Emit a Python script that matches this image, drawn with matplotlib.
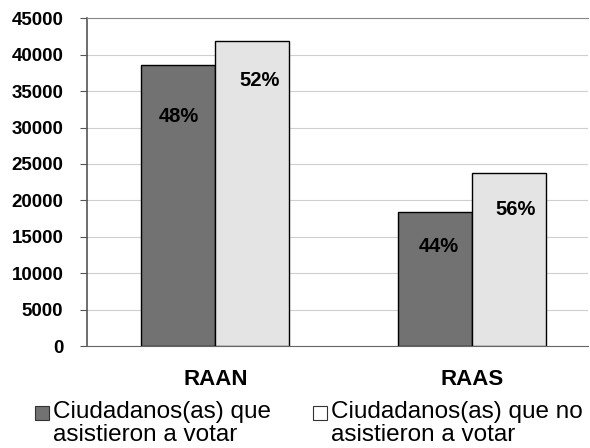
import numpy as np
import matplotlib.pyplot as plt
from matplotlib.patches import Rectangle

plt.rcParams['font.family'] = ['Liberation Sans', 'DejaVu Sans']

# data
regions = ["RAAN", "RAAS"]
asistieron = [38560, 18470]
no_asistieron = [41850, 23810]
pct_asist = ["48%", "44%"]
pct_no = ["52%", "56%"]
series_names = ["Ciudadanos(as) que\nasistieron a votar",
                "Ciudadanos(as) que no\nasistieron a votar"]
series_colors = ["#727272", "#e4e4e4"]

fig = plt.figure(figsize=(5.9, 4.48), dpi=100)
ax = fig.add_axes([0.1475, 0.2266, 0.849, 0.7332])

x = np.arange(len(regions))
w = 0.288
b1 = ax.bar(x - w/2, asistieron, w, color=series_colors[0], edgecolor="black", linewidth=1, zorder=3)
b2 = ax.bar(x + w/2, no_asistieron, w, color=series_colors[1], edgecolor="black", linewidth=1, zorder=3)

# label placement (pixel offsets from bar top)
off_a = [(0, -51), (3, -35)]
off_n = [(7, -39), (6, -37)]
for rect, lab, (dx, dy) in zip(b1, pct_asist, off_a):
    ax.annotate(lab, (rect.get_x() + rect.get_width()/2, rect.get_height()),
                xytext=(dx * 0.72, dy * 0.72), textcoords="offset points",
                ha="center", va="center", fontsize=14.5, fontweight="bold", zorder=4)
for rect, lab, (dx, dy) in zip(b2, pct_no, off_n):
    ax.annotate(lab, (rect.get_x() + rect.get_width()/2, rect.get_height()),
                xytext=(dx * 0.72, dy * 0.72), textcoords="offset points",
                ha="center", va="center", fontsize=14.5, fontweight="bold", zorder=4)

ax.set_ylim(0, 45000)
ax.set_yticks(np.arange(0, 45001, 5000))
ax.set_xlim(-0.5, 1.45)
ax.set_xticks(x)
ax.set_xticklabels(regions, fontsize=16, fontweight="bold")
ax.tick_params(axis="x", length=0, pad=16)
ax.tick_params(axis="y", labelsize=13.5, length=5, direction="out", pad=12,
               color="#555555")
for t in ax.get_yticklabels():
    t.set_fontweight("bold")

ax.grid(axis="y", color="#cfcfcf", linewidth=0.8, zorder=0)
ax.spines["right"].set_visible(False)
ax.spines["top"].set_color("#888888")
ax.spines["top"].set_linestyle((0, (2, 1)))
ax.spines["left"].set_color("#555555")
ax.spines["left"].set_linewidth(1.2)
ax.spines["bottom"].set_color("#666666")

# legend drawn below the plot
W, H = 590, 448
leg_x = [35, 313]
leg_fill = [series_colors[0], "white"]
for lx, name, fc in zip(leg_x, series_names, leg_fill):
    fig.patches.append(Rectangle((lx / W, 1 - 420 / H), 14 / W, 14 / H,
                                 transform=fig.transFigure, facecolor=fc,
                                 edgecolor="#333333", linewidth=0.8))
    fig.text((lx + 18) / W, 1 - 401 / H, name, ha="left", va="top",
             fontsize=17.5, linespacing=1.08)

fig.savefig("out.png", dpi=100)
